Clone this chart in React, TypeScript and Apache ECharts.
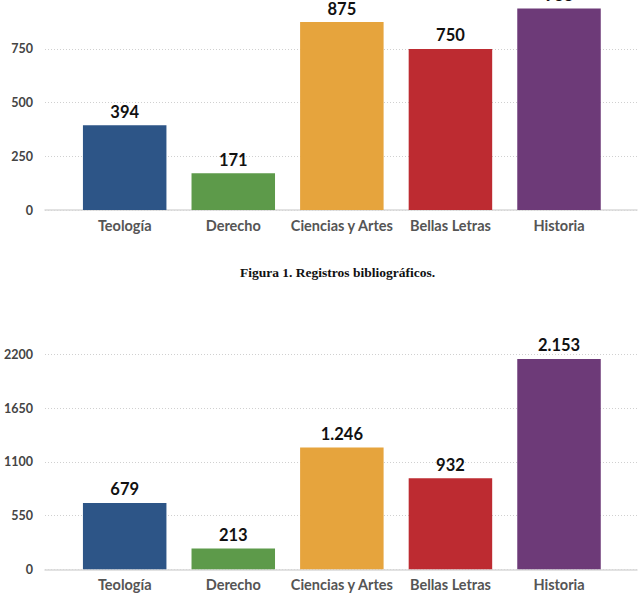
import React, { useEffect, useRef } from "react";
import * as echarts from "echarts";

const categories = ["Teología", "Derecho", "Ciencias y Artes", "Bellas Letras", "Historia"];
const barColors = ["#2d5587", "#5d9a4a", "#e6a43d", "#bd2b31", "#6d3a78"];
const topValues = [394, 171, 875, 750, 938];
const bottomValues = [679, 213, 1246, 932, 2153];
const topTicks = { min: 0, max: 1000, interval: 250 };
const bottomTicks = { min: 0, max: 2200, interval: 550 };
const caption = "Figura 1. Registros bibliográficos.";

const FONT = "Lato";
const SHIFT = 10; // chart div is shifted up so the top plot can start above the page

const fmt = (v: number) => String(v).replace(/\B(?=(\d{3})+(?!\d))/g, ".");

export default function App() {
  const ref = useRef<HTMLDivElement>(null);
  useEffect(() => {
    if (!ref.current) return;
    const chart = echarts.init(ref.current, undefined, { renderer: "svg" });

    const bgX = (gridIndex: number) => ({
      type: "category",
      gridIndex,
      data: [""],
      axisLine: { show: true, lineStyle: { color: "#d9d9d9", width: 1.5 } },
      axisTick: { show: false },
      axisLabel: { show: false },
    });
    const barX = (gridIndex: number) => ({
      type: "category",
      gridIndex,
      data: categories,
      axisLine: { show: false },
      axisTick: { show: false },
      axisLabel: {
        color: "#555",
        fontFamily: FONT,
        fontWeight: "bold",
        fontSize: 14.5,
        margin: 8,
        interval: 0,
      },
    });
    const bgY = (gridIndex: number, t: any, hideMax: boolean) => ({
      type: "value",
      gridIndex,
      min: t.min,
      max: t.max,
      interval: t.interval,
      axisLine: { show: false },
      axisTick: { show: false },
      axisLabel: {
        color: "#444",
        fontFamily: FONT,
        fontWeight: "bold",
        fontSize: 12.5,
        margin: 12,
        showMaxLabel: !hideMax,
        formatter: (v: number) => String(v),
      },
      splitLine: { show: true, lineStyle: { color: "#d0d0d0", type: [1, 2], width: 1 } },
    });
    const barY = (gridIndex: number, t: any) => ({
      type: "value",
      gridIndex,
      min: t.min,
      max: t.max,
      interval: t.interval,
      show: false,
      splitLine: { show: false },
    });
    const barSeries = (idx: number, values: number[]) => ({
      type: "bar",
      xAxisIndex: idx,
      yAxisIndex: idx,
      barWidth: 83.5,
      data: values.map((v, i) => ({ value: v, itemStyle: { color: barColors[i] } })),
      label: {
        show: true,
        position: "top",
        distance: 5,
        color: "#111",
        fontFamily: FONT,
        fontWeight: "bold",
        fontSize: 16.5,
        formatter: (p: any) => fmt(p.value),
      },
    });

    chart.setOption({
      animation: false,
      backgroundColor: "#fff",
      grid: [
        { left: 45, right: 6, top: SHIFT - 4.8, bottom: 404 },
        { left: 70.4, right: 29.7, top: SHIFT - 4.8, bottom: 404 },
        { left: 45, right: 6, top: SHIFT + 354.3, bottom: 44.7 },
        { left: 70.4, right: 29.7, top: SHIFT + 354.3, bottom: 44.7 },
      ],
      xAxis: [bgX(0), barX(1), bgX(2), barX(3)],
      yAxis: [bgY(0, topTicks, true), barY(1, topTicks), bgY(2, bottomTicks, false), barY(3, bottomTicks)],
      series: [barSeries(1, topValues), barSeries(3, bottomValues)],
      graphic: [
        {
          type: "text",
          x: 337.5,
          y: SHIFT + 272,
          style: {
            text: caption,
            fill: "#111",
            font: "bold 13.5px 'Liberation Serif'",
            textAlign: "center",
            textVerticalAlign: "middle",
          },
        },
      ],
    });
    return () => chart.dispose();
  }, []);
  return (
    <div
      ref={ref}
      style={{ position: "fixed", left: 0, top: -SHIFT, width: 643, height: 614 + SHIFT, background: "#fff" }}
    />
  );
}
